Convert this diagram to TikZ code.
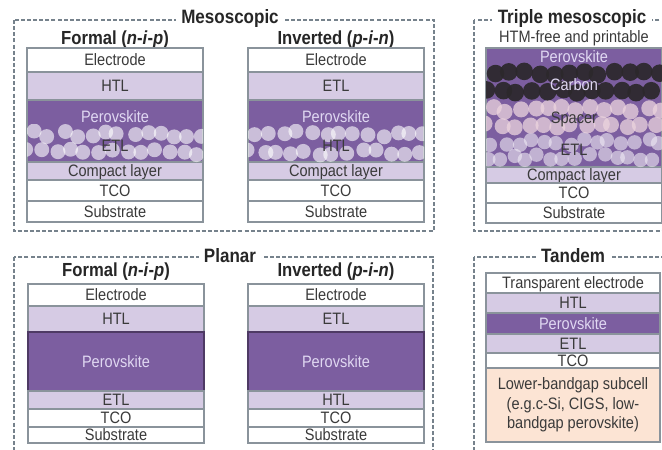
\documentclass[tikz,border=0pt]{standalone}
\usepackage{fontspec}
\setmainfont{Liberation Sans}[FakeStretch=0.88]
\usetikzlibrary{positioning}
\definecolor{txtgray}{RGB}{58,58,58}
\definecolor{edgegray}{RGB}{138,147,155}
\definecolor{framegray}{RGB}{118,130,140}
\definecolor{lav}{RGB}{214,203,228}
\definecolor{pvk}{RGB}{124,94,160}
\definecolor{pvkdark}{RGB}{78,58,100}
\definecolor{pvktext}{RGB}{224,216,242}
\definecolor{carbon}{RGB}{44,40,44}
\definecolor{spacer}{RGB}{236,212,222}
\definecolor{peach}{RGB}{252,228,212}
\newdimen\px \px=0.75pt
\tikzstyle{frame} = [draw=framegray, line width=0.8pt, dash pattern=on 3pt off 1.6pt]
\tikzstyle{grouptitle} = [fill=white, inner xsep=4pt, inner ysep=1pt, font=\fontsize{14.5}{16}\selectfont\bfseries, text=black!85]
\tikzstyle{stacktitle} = [inner sep=0pt, font=\fontsize{14.2}{16}\selectfont\bfseries, text=black!85]
\tikzstyle{slab} = [draw=edgegray, line width=0.8pt, inner sep=0pt, outer sep=0pt, minimum width=176*\px, text=txtgray, font=\fontsize{12.4}{14.6}\selectfont]
\tikzstyle{layer} = [slab, text height=8.4pt, text depth=0pt]
\tikzstyle{pvklabel} = [inner sep=0pt, text height=8.4pt, text depth=0pt, text=pvktext, font=\fontsize{12.4}{14}\selectfont]
\tikzstyle{beadlabel} = [inner sep=0pt, text height=8.4pt, text depth=0pt, text=txtgray, font=\fontsize{12.4}{14}\selectfont]

\begin{document}
\begin{tikzpicture}[x=0.75pt, y=-0.75pt]
    \useasboundingbox (0,0) rectangle (662,450);
    \clip (0,0) rectangle (662,450);

    % Group frames
    \draw[frame] (14,20) rectangle (434,231);
    \draw[frame] (474,20) rectangle (690,231);
    \draw[frame] (14,257) rectangle (433,480);
    \draw[frame] (474,257) rectangle (690,480);
    \node[grouptitle] (meso) at (230,18) {Mesoscopic};
    \node[grouptitle] (triple) at (572,18) {Triple mesoscopic};
    \node[grouptitle] (planar) at (230,256) {Planar};
    \node[grouptitle] (tandem) at (573,256) {Tandem};

    % Mesoscopic, formal
    \node[stacktitle] (mfTitle) at (115,40) {Formal (\textit{n}-\textit{i}-\textit{p})};
    \node[layer, minimum height=24*\px] (mfElec) at (115,60) {Electrode};
    \node[layer, fill=lav, minimum height=28*\px, below=0pt of mfElec] (mfHTL) {HTL};
    \node[slab, fill=pvk, minimum height=62*\px, below=0pt of mfHTL] (mfPvk) {};
    \node[layer, fill=lav, minimum height=18*\px, below=0pt of mfPvk] (mfComp) {Compact layer};
    \node[layer, minimum height=21*\px, below=0pt of mfComp] (mfTCO) {TCO};
    \node[layer, minimum height=21*\px, below=0pt of mfTCO] (mfSub) {Substrate};

    % Mesoscopic, inverted
    \node[stacktitle] (miTitle) at (336,40) {Inverted (\textit{p}-\textit{i}-\textit{n})};
    \node[layer, minimum height=24*\px] (miElec) at (336,60) {Electrode};
    \node[layer, fill=lav, minimum height=28*\px, below=0pt of miElec] (miETL) {ETL};
    \node[slab, fill=pvk, minimum height=62*\px, below=0pt of miETL] (miPvk) {};
    \node[layer, fill=lav, minimum height=18*\px, below=0pt of miPvk] (miComp) {Compact layer};
    \node[layer, minimum height=21*\px, below=0pt of miComp] (miTCO) {TCO};
    \node[layer, minimum height=21*\px, below=0pt of miTCO] (miSub) {Substrate};

    % Mesoporous beads
    \pgfmathsetseed{17}
    \foreach \sx in {27,248} {
        \begin{scope}
            \clip (\sx,124) rectangle (\sx+176,162);
            \foreach \i in {0,...,12} {
                \fill[white, opacity=0.6] (\sx+8+\i*14+3*rand, 134+3*rand) circle (5.6pt);
                \fill[white, opacity=0.6] (\sx+1+\i*14+3*rand, 152+3*rand) circle (5.6pt);
            }
        \end{scope}
    }
    \node[pvklabel] (mfPvkLbl) at (115,117) {Perovskite};
    \node[beadlabel] (mfETL) at (115,146) {ETL};
    \node[pvklabel] (miPvkLbl) at (336,117) {Perovskite};
    \node[beadlabel] (miHTL) at (336,146) {HTL};

    % Triple mesoscopic
    \node[font=\fontsize{12.4}{14}\selectfont, text=txtgray, inner sep=0pt] (tmSub) at (574,38) {HTM-free and printable};
    \node[slab, fill=pvk, minimum height=119*\px] (tmPvk) at (574,107.5) {};
    \node[layer, fill=lav, minimum height=16*\px, below=0pt of tmPvk] (tmComp) {Compact layer};
    \node[layer, minimum height=20*\px, below=0pt of tmComp] (tmTCO) {TCO};
    \node[layer, minimum height=20*\px, below=0pt of tmTCO] (tmSubs) {Substrate};
    \begin{scope}
        \clip (486,48) rectangle (662,167);
        \foreach \i in {0,...,13} {
            \fill[lav!40, opacity=0.6] (492+\i*13+3*rand, 142+3*rand) circle (5.4pt);
            \fill[lav!40, opacity=0.6] (486+\i*13+3*rand, 157+3*rand) circle (5.4pt);
        }
        \foreach \i in {0,...,12} {
            \fill[spacer, opacity=0.75] (493+\i*14+3*rand, 109+3*rand) circle (6pt);
            \fill[spacer, opacity=0.75] (487+\i*14+3*rand, 125+3*rand) circle (6pt);
        }
        \foreach \i in {0,...,11} {
            \fill[carbon, opacity=0.93] (494+\i*15+2*rand, 73+2*rand) circle (6.6pt);
            \fill[carbon, opacity=0.93] (487+\i*15+2*rand, 91+2*rand) circle (6.6pt);
        }
    \end{scope}
    \node[pvklabel] (tmPvkLbl) at (574,57) {Perovskite};
    \node[pvklabel] (tmCarbon) at (574,85) {Carbon};
    \node[beadlabel] (tmSpacer) at (574,118) {Spacer};
    \node[beadlabel] (tmETL) at (574,150) {ETL};

    % Planar, formal
    \node[stacktitle] (pfTitle) at (116,272) {Formal (\textit{n}-\textit{i}-\textit{p})};
    \node[layer, minimum height=22*\px] (pfElec) at (116,295) {Electrode};
    \node[layer, fill=lav, minimum height=26*\px, below=0pt of pfElec] (pfHTL) {HTL};
    \node[layer, fill=pvk, draw=pvkdark, text=pvktext, minimum height=59*\px, below=0pt of pfHTL] (pfPvk) {Perovskite};
    \node[layer, fill=lav, minimum height=18*\px, below=0pt of pfPvk] (pfETL) {ETL};
    \node[layer, minimum height=18*\px, below=0pt of pfETL] (pfTCO) {TCO};
    \node[layer, minimum height=16*\px, below=0pt of pfTCO] (pfSub) {Substrate};

    % Planar, inverted
    \node[stacktitle] (piTitle) at (336,272) {Inverted (\textit{p}-\textit{i}-\textit{n})};
    \node[layer, minimum height=22*\px] (piElec) at (336,295) {Electrode};
    \node[layer, fill=lav, minimum height=26*\px, below=0pt of piElec] (piETL) {ETL};
    \node[layer, fill=pvk, draw=pvkdark, text=pvktext, minimum height=59*\px, below=0pt of piETL] (piPvk) {Perovskite};
    \node[layer, fill=lav, minimum height=18*\px, below=0pt of piPvk] (piHTL) {HTL};
    \node[layer, minimum height=18*\px, below=0pt of piHTL] (piTCO) {TCO};
    \node[layer, minimum height=16*\px, below=0pt of piTCO] (piSub) {Substrate};

    % Tandem
    \node[layer, minimum width=174*\px, minimum height=20*\px] (tdElec) at (573,283) {Transparent electrode};
    \node[layer, minimum width=174*\px, fill=lav, minimum height=20*\px, below=0pt of tdElec] (tdHTL) {HTL};
    \node[layer, minimum width=174*\px, fill=pvk, text=pvktext, minimum height=21*\px, below=0pt of tdHTL] (tdPvk) {Perovskite};
    \node[layer, minimum width=174*\px, fill=lav, minimum height=19*\px, below=0pt of tdPvk] (tdETL) {ETL};
    \node[layer, minimum width=174*\px, minimum height=15*\px, below=0pt of tdETL] (tdTCO) {TCO};
    \node[slab, minimum width=174*\px, fill=peach, minimum height=74*\px, align=center, below=0pt of tdTCO] (tdLower) {Lower-bandgap subcell\\(e.g.c-Si, CIGS, low-\\bandgap perovskite)};
\end{tikzpicture}
\end{document}
